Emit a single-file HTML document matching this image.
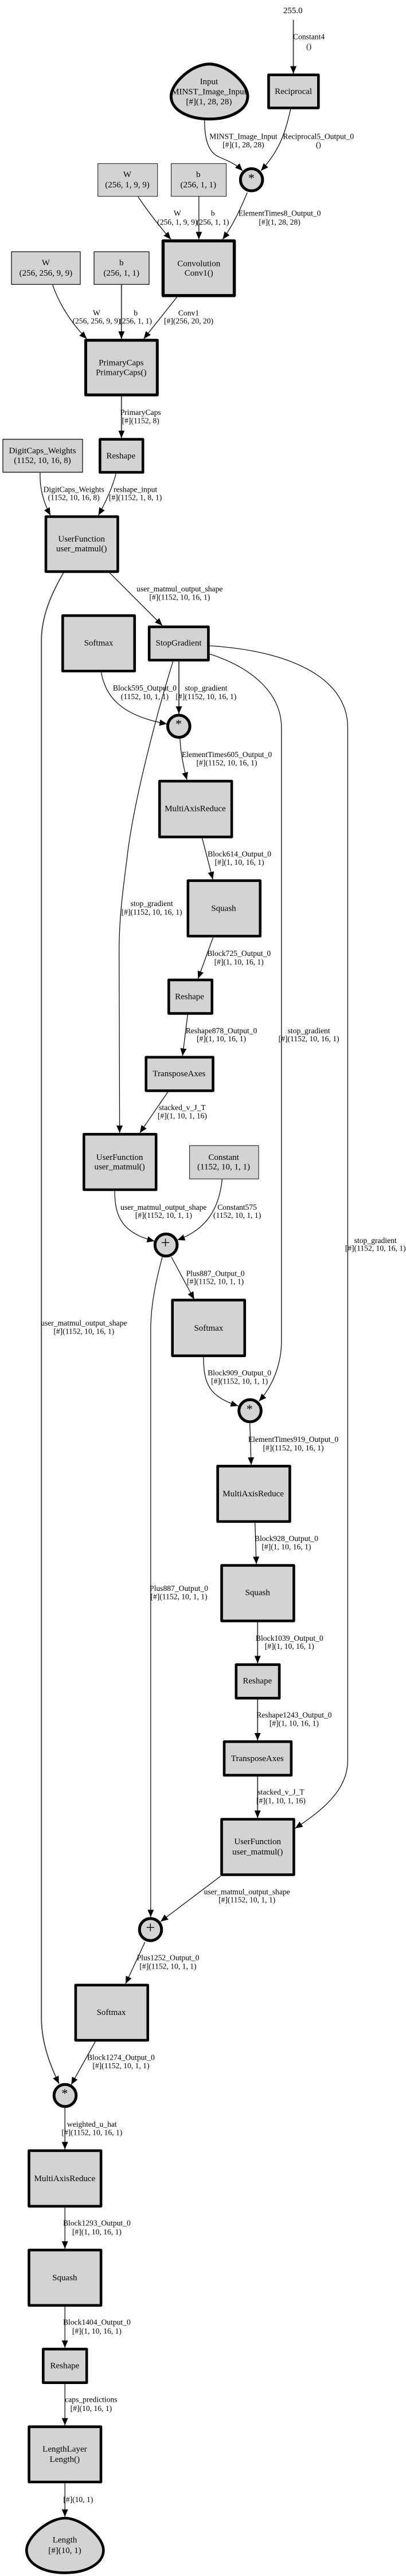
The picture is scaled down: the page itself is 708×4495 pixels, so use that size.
<!DOCTYPE html>
<html><head><meta charset="utf-8"><style>
html,body{margin:0;padding:0;background:#fff;width:708px;height:4495px;overflow:hidden}
svg{display:block}
text{font-family:"Liberation Serif",serif;fill:#000;text-anchor:middle}
.e text{font-size:13.6px}
.n text{font-size:15px}
.n rect,.n circle,.n path{fill:#d3d3d3;stroke:#000;stroke-width:4.6;stroke-linejoin:round}
.n circle{stroke-width:5}
.n rect.t{stroke:#222;stroke-width:1.1}
.l path{fill:none;stroke:#111;stroke-width:1.3;marker-end:url(#a)}
.l path.g{stroke:#444;stroke-width:1.9}
</style></head><body>
<svg width="708" height="4495" viewBox="0 0 708 4495" xmlns="http://www.w3.org/2000/svg">
<defs><marker id="a" markerUnits="userSpaceOnUse" markerWidth="14" markerHeight="12" refX="13" refY="5.5" orient="auto"><path d="M0 0L13 5.5L0 11Z" fill="#000"/></marker></defs>
<g class="l">
<path class="g" d="M511.6 34.5V128.5"/>
<path d="M356.7 209C356.7 235 360 262 379.3 272.6C392 279 408 283 423 298"/>
<path d="M506.7 190.7C498 230 488 262 455 298"/>
<path d="M431.2 335.8C424 353 410 388 388.3 417.6"/>
<path d="M240.7 343C255 365 278 395 298 417.6"/>
<path d="M346.8 343V417.6"/>
<path d="M91.7 497C103 530 125 565 151.3 591.2"/>
<path class="g" d="M211.8 497V591.2"/>
<path d="M308.4 518.5L250.6 591.2"/>
<path class="g" d="M211.8 691.6V764.3"/>
<path d="M70 824.6C69 850 75 875 88 899.2"/>
<path d="M202.3 826.5C196 850 185 875 171.6 899.2"/>
<path d="M191.4 999.7L283 1091.5"/>
<path class="g" d="M110.6 999.7C90 1035 72.2 1075 72.2 1118V3521C72.2 3565 88 3605 102.9 3636"/>
<path d="M176.5 1173.3C183 1210 205 1248 291.2 1263.2"/>
<path class="g" d="M312 1154.2V1245.5"/>
<path d="M301.6 1154.2C275 1240 232 1400 221.2 1500C212 1570 207.7 1610 207.7 1660L208.6 1976.9"/>
<path d="M365.7 1141.2C440 1165 490.8 1210 490.8 1270V2341C490.8 2380 475 2420 451.5 2445"/>
<path d="M365.7 1126.9C500 1135 606.4 1180 606.4 1270V3072C606.4 3125 560 3160 514.7 3190.4"/>
<path d="M313.8 1289C315 1310 319 1335 326 1360.8"/>
<path d="M352.6 1462.7L371.1 1534.4"/>
<path d="M371.6 1635.8L345.4 1707.6"/>
<path d="M327.3 1770.7L318.3 1842.5"/>
<path d="M292.6 1905.6L243.8 1976.9"/>
<path d="M200 2078.3C200 2125 215 2152 269.5 2165.8"/>
<path d="M387.4 2057.7C382 2110 360 2145 309.3 2163.9"/>
<path d="M298.9 2193.5L338.6 2267.2"/>
<path d="M283 2193.5C276 2220 262.8 2270 262.8 2320V3345.3"/>
<path d="M354.9 2368.1C355 2415 365 2437 415.4 2453.3"/>
<path d="M435.7 2483.9L438 2556.1"/>
<path d="M444.7 2657.5L447 2729.3"/>
<path class="g" d="M449.2 2830.7V2902.4"/>
<path class="g" d="M449.2 2965.5V3036.8"/>
<path class="g" d="M449.2 3100V3172.2"/>
<path d="M385 3273.6L280 3353"/>
<path d="M252.8 3388.9L219 3461.6"/>
<path d="M166.2 3562.5L124.2 3637.6"/>
<path d="M113.2 3678V3750.5"/>
<path d="M113.2 3852.1V3923.9"/>
<path d="M113.2 4025.1V4096.8"/>
<path d="M113.2 4160V4232.3"/>
<path d="M113.2 4333.3V4391.7"/>
</g>
<g class="n">
<path style="stroke-width:5" d="M365 111.7C395 111.7 432 145 432 168C432 192 402 207.7 365 207.7C328 207.7 298.3 192 298.3 168C298.3 145 335 111.7 365 111.7Z"/>
<rect x="468.4" y="130.7" width="86.9" height="57.6"/>
<circle cx="438.6" cy="313.7" r="19.3"/>
<rect class="t" x="170.7" y="285.5" width="104" height="57"/>
<rect class="t" x="298.5" y="285.5" width="96" height="57"/>
<rect x="284.4" y="420.3" width="124.2" height="95.5" style="stroke-width:5.4"/>
<rect class="t" x="20" y="439.3" width="120" height="57" style="stroke-width:1.4"/>
<rect class="t" x="164" y="439.3" width="96" height="57" style="stroke-width:1.4"/>
<rect x="149.5" y="593.7" width="124.8" height="95.4" style="stroke-width:5"/>
<rect class="t" x="5" y="766.5" width="139" height="57.5" style="stroke-width:1.4"/>
<rect x="174.3" y="766.6" width="74.9" height="57.6"/>
<rect x="80" y="901.5" width="125.4" height="95.9"/>
<rect x="109.3" y="1074.2" width="125.4" height="96.8"/>
<rect x="260.1" y="1093.8" width="103.3" height="58.1"/>
<circle cx="311.8" cy="1267.3" r="19.3"/>
<rect x="278.2" y="1363.1" width="125.9" height="97.3"/>
<rect x="327.8" y="1536.7" width="125.9" height="96.8"/>
<rect x="294.3" y="1709.9" width="75.4" height="58.5"/>
<rect x="254.7" y="1844.8" width="116.8" height="58.5"/>
<rect x="146.3" y="1979.2" width="125.9" height="96.8"/>
<rect class="t" x="330.5" y="1998.9" width="120.5" height="58.3"/>
<circle cx="289.6" cy="2172.5" r="19.3"/>
<rect x="300.7" y="2268.6" width="126" height="97.2"/>
<circle cx="436" cy="2461.7" r="19.3"/>
<rect x="379.6" y="2558.3" width="125.8" height="96.7"/>
<rect x="386.5" y="2731.6" width="125.9" height="96.8"/>
<rect x="411.8" y="2904.7" width="75.3" height="58.5"/>
<rect x="391" y="3039.1" width="116.9" height="58.6"/>
<rect x="386.5" y="3174.5" width="125.9" height="96.8"/>
<circle cx="262.5" cy="3367" r="19.3"/>
<rect x="131.9" y="3463.9" width="125.8" height="96.3"/>
<circle cx="113.5" cy="3656.5" r="19.3"/>
<rect x="50.5" y="3752.8" width="125.6" height="97"/>
<rect x="50.5" y="3926.2" width="125.6" height="96.6"/>
<rect x="75.3" y="4099.1" width="75.9" height="58.6"/>
<rect x="50.6" y="4234.6" width="125.4" height="96.4"/>
<path d="M113.3 4394C142 4394 180.4 4427 180.4 4450C180.4 4474 150 4489.4 113.3 4489.4C76 4489.4 46.3 4474 46.3 4450C46.3 4427 85 4394 113.3 4394Z"/>

<text x="510.7" y="23">255.0</text>
<text x="364.4" y="147">Input</text><text x="364.4" y="164.4">MINST_Image_Input</text><text x="364.4" y="182">[#](1, 28, 28)</text>
<text x="511.6" y="164">Reciprocal</text>
<text x="222" y="309.2">W</text><text x="222" y="327">(256, 1, 9, 9)</text>
<text x="345.8" y="309.2">b</text><text x="345.8" y="327">(256, 1, 1)</text>
<text x="346.8" y="464.5">Convolution</text><text x="346.8" y="481">Conv1()</text>
<text x="79.9" y="463.2">W</text><text x="79.9" y="481">(256, 256, 9, 9)</text>
<text x="211.8" y="463.2">b</text><text x="211.8" y="481">(256, 1, 1)</text>
<text x="211.3" y="637.5">PrimaryCaps</text><text x="211.3" y="654.5">PrimaryCaps()</text>
<text x="74" y="791">DigitCaps_Weights</text><text x="74" y="808">(1152, 10, 16, 8)</text>
<text x="210.8" y="800">Reshape</text>
<text x="142.2" y="945">UserFunction</text><text x="142.2" y="962">user_matmul()</text>
<text x="172" y="1126.6">Softmax</text>
<text x="311.5" y="1126.6">StopGradient</text>
<text x="340.4" y="1415.5">MultiAxisReduce</text>
<text x="390" y="1589.7">Squash</text>
<text x="330.5" y="1743.7">Reshape</text>
<text x="312.4" y="1878">TransposeAxes</text>
<text x="208.6" y="2024">UserFunction</text><text x="208.6" y="2040.7">user_matmul()</text>
<text x="390" y="2024">Constant</text><text x="390" y="2040.7">(1152, 10, 1, 1)</text>
<text x="363.9" y="2322">Softmax</text>
<text x="441.6" y="2611">MultiAxisReduce</text>
<text x="449.2" y="2783.5">Squash</text>
<text x="448.8" y="2937.5">Reshape</text>
<text x="448.8" y="3073">TransposeAxes</text>
<text x="449.2" y="3218">UserFunction</text><text x="449.2" y="3236">user_matmul()</text>
<text x="194" y="3516">Softmax</text>
<text x="112.9" y="3805.8">MultiAxisReduce</text>
<text x="112.9" y="3978.8">Squash</text>
<text x="112.9" y="4132.7">Reshape</text>
<text x="112.9" y="4278">LengthLayer</text><text x="112.9" y="4296">Length()</text>
<text x="113" y="4436.7">Length</text><text x="113" y="4455">[#](10, 1)</text>
<text x="438.4" y="317.8" style="font-size:22px">*</text>
<text x="311.5" y="1270.6" style="font-size:22px">*</text>
<text x="435.2" y="2466" style="font-size:22px">*</text>
<text x="112.9" y="3660" style="font-size:22px">*</text>
<text x="288.5" y="2178" style="font-size:28px">+</text>
<text x="262.3" y="3373" style="font-size:28px">+</text>
</g>
<g class="e">
<text x="538.6" y="68.6">Constant4</text><text x="538.6" y="85.3">()</text>
<text x="424.4" y="242.7">MINST_Image_Input</text><text x="424.4" y="257">[#](1, 28, 28)</text>
<text x="555.3" y="242.7">Reciprocal5_Output_0</text><text x="555.3" y="257">()</text>
<text x="309.3" y="376.6">W</text><text x="309.3" y="391.9">(256, 1, 9, 9)</text>
<text x="371.1" y="376.6">b</text><text x="371.1" y="391.9">(256, 1, 1)</text>
<text x="487.6" y="376.6">ElementTimes8_Output_0</text><text x="487.6" y="391.9">[#](1, 28, 28)</text>
<text x="168.4" y="550.7">W</text><text x="168.4" y="564.6">(256, 256, 9, 9)</text>
<text x="236.6" y="550.7">b</text><text x="236.6" y="564.6">(256, 1, 1)</text>
<text x="329" y="550.7">Conv1</text><text x="329" y="564.6">[#](256, 20, 20)</text>
<text x="245.2" y="723.8">PrimaryCaps</text><text x="245.2" y="738.7">[#](1152, 8)</text>
<text x="128.7" y="858.7">DigitCaps_Weights</text><text x="128.7" y="872.6">(1152, 10, 16, 8)</text>
<text x="236.1" y="858.7">reshape_input</text><text x="236.1" y="872.6">[#](1152, 1, 8, 1)</text>
<text x="313.3" y="1031.9">user_matmul_output_shape</text><text x="313.3" y="1046.7">[#](1152, 10, 16, 1)</text>
<text x="252.4" y="1205">Block595_Output_0</text><text x="252.4" y="1219.9">(1152, 10, 1, 1)</text>
<text x="359.4" y="1205">stop_gradient</text><text x="359.4" y="1219.9">[#](1152, 10, 16, 1)</text>
<text x="395.5" y="1320.8">ElementTimes605_Output_0</text><text x="395.5" y="1335.6">[#](1152, 10, 16, 1)</text>
<text x="417.6" y="1494.4">Block614_Output_0</text><text x="417.6" y="1508.8">[#](1, 10, 16, 1)</text>
<text x="264.6" y="1581">stop_gradient</text><text x="264.6" y="1595.8">[#](1152, 10, 16, 1)</text>
<text x="416.7" y="1668">Block725_Output_0</text><text x="416.7" y="1682.9">[#](1, 10, 16, 1)</text>
<text x="386" y="1802.9">Reshape878_Output_0</text><text x="386" y="1816.8">[#](1, 10, 16, 1)</text>
<text x="538.6" y="1802.9">stop_gradient</text><text x="538.6" y="1816.8">[#](1152, 10, 16, 1)</text>
<text x="317.9" y="1936.9">stacked_v_J_T</text><text x="317.9" y="1951.7">[#](1, 10, 1, 16)</text>
<text x="285.3" y="2111">user_matmul_output_shape</text><text x="285.3" y="2124.8">[#](1152, 10, 1, 1)</text>
<text x="413.6" y="2111">Constant575</text><text x="413.6" y="2124.8">(1152, 10, 1, 1)</text>
<text x="654.7" y="2168.8">stop_gradient</text><text x="654.7" y="2182.7">[#](1152, 10, 16, 1)</text>
<text x="375.6" y="2226.7">Plus887_Output_0</text><text x="375.6" y="2240.6">[#](1152, 10, 1, 1)</text>
<text x="146.3" y="2312.8">user_matmul_output_shape</text><text x="146.3" y="2327.7">[#](1152, 10, 16, 1)</text>
<text x="417.6" y="2399.9">Block909_Output_0</text><text x="417.6" y="2414.7">[#](1152, 10, 1, 1)</text>
<text x="511.5" y="2516.1">ElementTimes919_Output_0</text><text x="511.5" y="2530.9">[#](1152, 10, 16, 1)</text>
<text x="499.4" y="2688.8">Block928_Output_0</text><text x="499.4" y="2703.6">[#](1, 10, 16, 1)</text>
<text x="312" y="2775.8">Plus887_Output_0</text><text x="312" y="2790.7">[#](1152, 10, 1, 1)</text>
<text x="504.8" y="2862.9">Block1039_Output_0</text><text x="504.8" y="2876.8">[#](1, 10, 16, 1)</text>
<text x="512.9" y="2996.8">Reshape1243_Output_0</text><text x="512.9" y="3011.7">[#](1, 10, 16, 1)</text>
<text x="489.9" y="3131.7">stacked_v_J_T</text><text x="489.9" y="3146.5">[#](1, 10, 1, 16)</text>
<text x="430.7" y="3305.3">user_matmul_output_shape</text><text x="430.7" y="3319.7">[#](1152, 10, 1, 1)</text>
<text x="293" y="3420.6">Plus1252_Output_0</text><text x="293" y="3435.4">[#](1152, 10, 1, 1)</text>
<text x="210.9" y="3594.7">Block1274_Output_0</text><text x="210.9" y="3609">[#](1152, 10, 1, 1)</text>
<text x="160.3" y="3710.9">weighted_u_hat</text><text x="160.3" y="3725.3">[#](1152, 10, 16, 1)</text>
<text x="168.9" y="3883.7">Block1293_Output_0</text><text x="168.9" y="3898.9">[#](1, 10, 16, 1)</text>
<text x="168.9" y="4056.6">Block1404_Output_0</text><text x="168.9" y="4071.8">[#](1, 10, 16, 1)</text>
<text x="158.9" y="4191.6">caps_predictions</text><text x="158.9" y="4206.8">[#](10, 16, 1)</text>
<text x="136.3" y="4366">[#](10, 1)</text>
</g>
</svg>
</body></html>
